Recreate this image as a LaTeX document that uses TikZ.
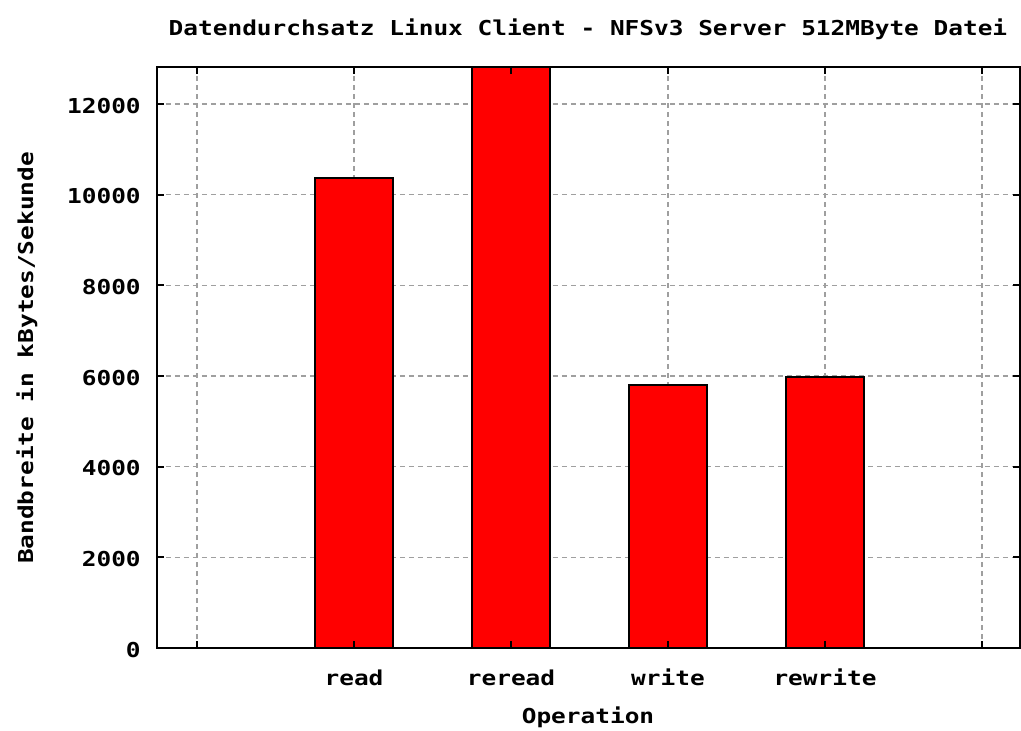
\documentclass[tikz,border=0pt]{standalone}
\usepackage{fontspec}
\newfontfamily\plotfont[FakeStretch=1.19]{DejaVu Sans Mono}
\usetikzlibrary{positioning}

\tikzset{
  label/.style={font=\plotfont\bfseries\fontsize{15.4}{18}\selectfont, inner sep=0pt},
  gridline/.style={draw=gray!75, line width=1.1pt, dash pattern=on 3.75pt off 3pt},
  bar/.style={draw=black, fill=red, line width=1.3pt},
  frame/.style={draw=black, line width=1.5pt},
  tickmark/.style={draw=black, line width=1.5pt}
}

\begin{document}
\begin{tikzpicture}[x=0.75pt,y=-0.75pt]
  \useasboundingbox (0,0) rectangle (1021,731);

  \node[label, anchor=base] (title) at (588,36)
       {Datendurchsatz Linux Client - NFSv3 Server 512MByte Datei};
  \node[label, anchor=base] (xlabel) at (588,723) {Operation};
  \node[label, anchor=base, rotate=90] (ylabel) at (33,358)
       {Bandbreite in kBytes/Sekunde};

  % data area: x = operation number, y = kBytes/s
  \begin{scope}[shift={(197,648)}, x=117.75pt, y=0.034pt]
    \coordinate (ll) at (-0.255,0);
    \coordinate (ur) at (5.242,12816);

    % grid
    \foreach \v in {2000,4000,...,12000}
      \draw[gridline] (-0.255,\v) -- (5.242,\v);
    \foreach \i in {0,...,5}
      \draw[gridline] (\i,0) -- (\i,12816);

    % bars
    \foreach \i/\v in {1/10368,2/12816,3/5802,4/5978}
      \draw[bar] (\i-0.25,0) rectangle (\i+0.25,\v);

    \draw[frame] (ll) rectangle (ur);

    % ticks and tick labels
    \foreach \v in {0,2000,...,12000} {
      \draw[tickmark] (-0.255,\v) -- ++(0.045,0);
      \draw[tickmark] (5.242,\v) -- ++(-0.045,0);
      \node[label, anchor=base east] (ytick\v) at (-0.357,\v-199) {\v};
    }
    \foreach \i in {0,...,5} {
      \draw[tickmark] (\i,0) -- ++(0,154);
      \draw[tickmark] (\i,12816) -- ++(0,-154);
    }
    \foreach \i/\op in {1/read,2/reread,3/write,4/rewrite}
      \node[label, anchor=base] (op\i) at (\i,-838) {\op};
  \end{scope}
\end{tikzpicture}
\end{document}
